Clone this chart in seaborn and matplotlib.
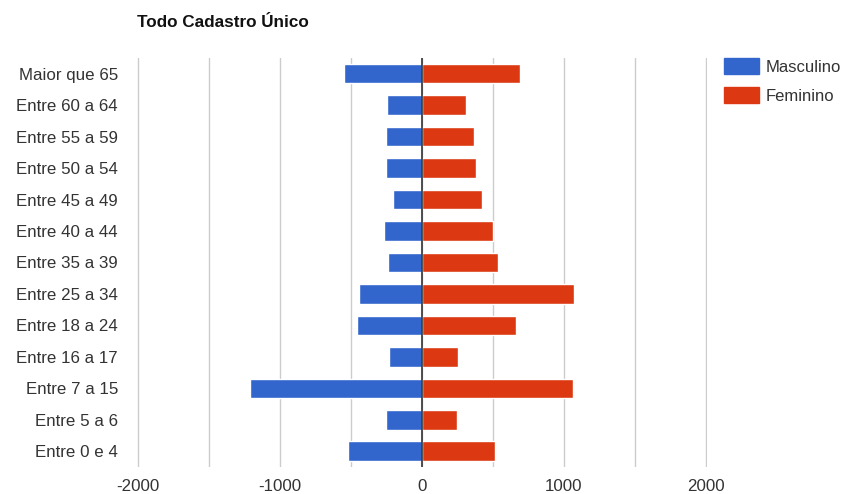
import pandas as pd
import matplotlib.pyplot as plt
import seaborn as sns
from matplotlib.ticker import MultipleLocator, FixedLocator

sns.set_style('white')
plt.rcParams['font.family'] = ['Liberation Sans', 'DejaVu Sans']

# data
faixas = ['Maior que 65', 'Entre 60 a 64', 'Entre 55 a 59', 'Entre 50 a 54',
          'Entre 45 a 49', 'Entre 40 a 44', 'Entre 35 a 39', 'Entre 25 a 34',
          'Entre 18 a 24', 'Entre 16 a 17', 'Entre 7 a 15', 'Entre 5 a 6',
          'Entre 0 e 4']
masculino = [-550, -246, -253, -253, -199, -265, -234, -440, -456, -227, -1210, -253, -522]
feminino = [690, 311, 365, 383, 421, 503, 540, 1071, 662, 255, 1062, 246, 514]
ticks = [-2000, -1000, 0, 1000, 2000]

df = pd.DataFrame({'Faixa': faixas * 2,
                   'Valor': masculino + feminino,
                   'Sexo': ['Masculino'] * len(faixas) + ['Feminino'] * len(faixas)})

fig = plt.figure(figsize=(8.45, 4.94), dpi=100)
ax = fig.add_axes([0.1618, 0.0547, 0.6745, 0.8279])

sns.barplot(data=df, y='Faixa', x='Valor', hue='Sexo', order=faixas,
            palette={'Masculino': '#3366CC', 'Feminino': '#DC3912'},
            saturation=1, dodge=False, width=0.62, orient='h', ax=ax, legend=False)

ax.set_xlim(-2006, 2006)
ax.xaxis.set_major_locator(FixedLocator(ticks))
ax.xaxis.set_minor_locator(MultipleLocator(500))
ax.set_xticklabels([str(t) for t in ticks])
ax.grid(axis='x', which='both', color='#cccccc', linewidth=1)
ax.set_axisbelow(True)
ax.axvline(0, color='#333333', linewidth=1.2, zorder=5)
for s in ax.spines.values():
    s.set_visible(False)
ax.tick_params(axis='both', which='both', length=0, labelsize=12.2, colors='#333333')
ax.tick_params(axis='x', pad=9)
ax.tick_params(axis='y', pad=13.5)
ax.set_xlabel('')
ax.set_ylabel('')

fig.text(0.162, 0.955, 'Todo Cadastro Único', fontsize=12.3, fontweight='bold',
         color='#111111', ha='left', va='center')

handles = [plt.Rectangle((0, 0), 1, 1, color='#3366CC'),
           plt.Rectangle((0, 0), 1, 1, color='#DC3912')]
fig.legend(handles, ['Masculino', 'Feminino'], loc='upper left',
           bbox_to_anchor=(0.857, 0.882), frameon=False, fontsize=12,
           handlelength=2.1, handleheight=1.05, handletextpad=0.4,
           labelspacing=0.75, borderaxespad=0, borderpad=0, labelcolor='#333333')

plt.savefig('out.png', dpi=100)
